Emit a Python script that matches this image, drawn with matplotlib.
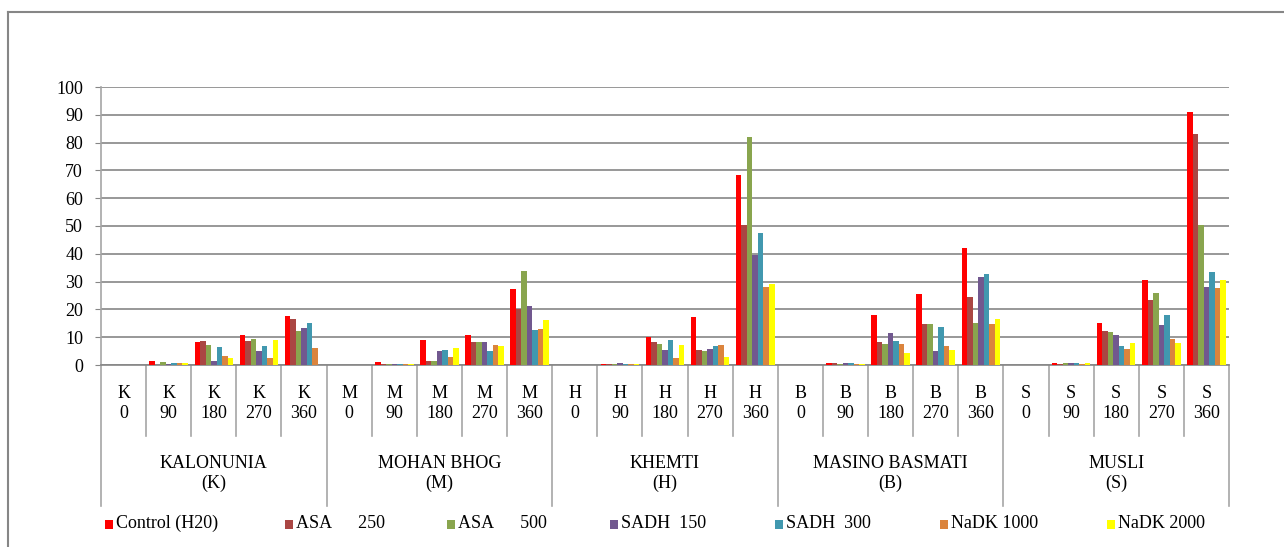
import matplotlib
matplotlib.use("Agg")
import matplotlib.pyplot as plt
import matplotlib.transforms as mtransforms
from matplotlib.patches import Rectangle
from matplotlib.lines import Line2D
import numpy as np

# Varieties (outer category level) and storage days (inner level)
varieties = ["KALONUNIA", "MOHAN BHOG", "KHEMTI", "MASINO BASMATI", "MUSLI"]
codes = ["K", "M", "H", "B", "S"]
days = ["0", "90", "180", "270", "360"]

series_names = ["Control (H20)", "ASA      250", "ASA      500", "SADH  150",
                "SADH  300", "NaDK 1000", "NaDK 2000"]

# Values ordered K0..K360, M0..M360, H0..H360, B0..B360, S0..S360
control = [0, 1.4, 8.3, 10.8, 17.6,  0, 1.1, 9.0, 10.8, 27.3,  0, 0.4, 10.1, 17.3, 68.3,
           0, 0.7, 18.0, 25.5, 42.1,  0, 0.7, 15.1, 30.6, 91.0]
asa_250 = [0, 0.0, 8.6, 8.6, 16.5,  0, 0.3, 1.4, 8.3, 20.0,  0, 0.3, 8.3, 5.4, 50.4,
           0, 0.7, 8.3, 14.7, 24.5,  0, 0.4, 12.2, 23.4, 83.1]
asa_500 = [0, 1.1, 7.2, 9.4, 12.2,  0, 0.3, 1.4, 8.3, 33.8,  0, 0.3, 7.6, 5.0, 82.0,
           0, 0.4, 7.6, 14.7, 15.1,  0, 0.7, 11.9, 25.9, 50.2]
sadh_150 = [0, 0.4, 1.4, 5.0, 13.3,  0, 0.3, 5.0, 8.3, 21.2,  0, 0.7, 5.4, 5.8, 39.6,
            0, 0.7, 11.5, 5.0, 31.7,  0, 0.7, 10.8, 14.4, 28.1]
sadh_300 = [0, 0.7, 6.5, 6.8, 15.1,  0, 0.3, 5.4, 5.0, 12.6,  0, 0.3, 9.0, 6.8, 47.5,
            0, 0.7, 8.6, 13.7, 32.7,  0, 0.7, 6.8, 18.0, 33.5]
nadk_1000 = [0, 0.7, 3.2, 2.6, 6.1,  0, 0.3, 2.9, 7.2, 12.9,  0, 0.3, 2.5, 7.2, 28.1,
             0, 0.4, 7.6, 6.8, 14.7,  0, 0.4, 5.8, 9.4, 27.7]
nadk_2000 = [0, 0.7, 2.6, 9.0, 0.0,  0, 0.3, 6.1, 6.8, 16.2,  0, 0.3, 7.2, 2.9, 29.1,
             0, 0.4, 4.3, 5.4, 16.5,  0, 0.7, 7.9, 7.9, 30.6]

series_values = [control, asa_250, asa_500, sadh_150, sadh_300, nadk_1000, nadk_2000]
colors = ["#FF0000", "#AA4643", "#89A54E", "#71588F", "#4198AF", "#DB843D", "#FFFF00"]

plt.rcParams["font.family"] = ["Liberation Serif", "DejaVu Serif"]
FS = 13
GRID = "#868686"
SEP = "#A6A6A6"

W, H = 1284, 547
fig = plt.figure(figsize=(W / 100, H / 100), dpi=100)

# axes placed in pixel terms
ax_l, ax_r, ax_t, ax_b = 101, 1229, 87, 365
ax = fig.add_axes([ax_l / W, 1 - ax_b / H, (ax_r - ax_l) / W, (ax_b - ax_t) / H])
ax_h = ax_b - ax_t

n_cat = len(codes) * len(days)
x = np.arange(n_cat)
bw = 0.122
n_ser = len(series_values)
for i, (vals, c) in enumerate(zip(series_values, colors)):
    offs = (i - (n_ser - 1) / 2) * bw
    ax.bar(x + offs, vals, width=bw, color=c, linewidth=0, zorder=3)

ax.set_xlim(-0.5, n_cat - 0.5)
ax.set_ylim(0, 100)
ax.set_yticks(np.arange(0, 101, 10))
ax.yaxis.grid(True, color=GRID, linewidth=1.2, zorder=0)
ax.set_axisbelow(True)
ax.tick_params(axis="y", direction="out", length=4.3, width=0.8, color=GRID,
               pad=8.6, labelsize=FS)
ax.tick_params(axis="x", length=0, labelbottom=False)
for side in ["top", "right"]:
    ax.spines[side].set_visible(False)
ax.spines["left"].set_color(SEP)
ax.spines["left"].set_linewidth(1.2)
ax.spines["bottom"].set_color(GRID)
ax.spines["bottom"].set_linewidth(1.2)

trans = mtransforms.blended_transform_factory(ax.transData, ax.transAxes)


def ay(py):
    """pixel row -> axes fraction"""
    return (ax_b - py) / ax_h


# inner category labels
for gi, code in enumerate(codes):
    for di, d in enumerate(days):
        xi = gi * len(days) + di
        ax.text(xi, ay(393), code, transform=trans, ha="center", va="center", fontsize=FS)
        ax.text(xi, ay(413), d, transform=trans, ha="center", va="center", fontsize=FS)

# separators of the two-level category axis
for b in range(n_cat + 1):
    full = b % len(days) == 0
    y_end = ay(506) if full else ay(436)
    ax.add_line(Line2D([b - 0.5, b - 0.5], [0, y_end], transform=trans,
                       color=SEP, linewidth=1.2, clip_on=False))

# outer category labels
for gi, (name, code) in enumerate(zip(varieties, codes)):
    xc = gi * len(days) + (len(days) - 1) / 2
    ax.text(xc, ay(463), name, transform=trans, ha="center", va="center", fontsize=FS)
    ax.text(xc, ay(483), "(" + code + ")", transform=trans, ha="center", va="center",
            fontsize=FS)

# legend row (left edge of each key, in pixels)
legend_left = [105, 285, 447, 610, 775, 940, 1107]
for left, name, c in zip(legend_left, series_names, colors):
    fig.patches.append(Rectangle((left / W, 1 - 529 / H), 8 / W, 9 / H,
                                 transform=fig.transFigure, color=c, linewidth=0))
    fig.text((left + 11) / W, 1 - 523 / H, name, ha="left", va="center", fontsize=FS)

# chart frame (left and top edges)
fig.add_artist(Line2D([8 / W, 8 / W], [0, 1 - 12 / H], transform=fig.transFigure,
                      color=GRID, linewidth=1.5))
fig.add_artist(Line2D([8 / W, 1], [1 - 12 / H, 1 - 12 / H], transform=fig.transFigure,
                      color=GRID, linewidth=1.5))

fig.savefig("out.png", dpi=100)
